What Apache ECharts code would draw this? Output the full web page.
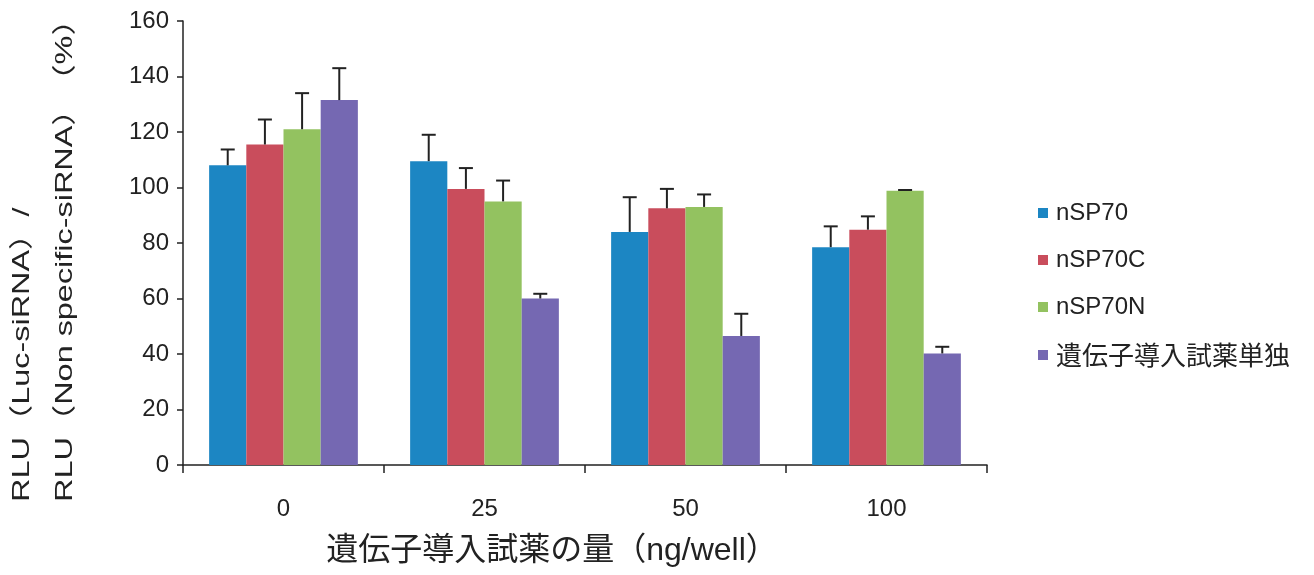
<!DOCTYPE html>
<html>
<head>
<meta charset="utf-8">
<script src="https://cdn.jsdelivr.net/npm/echarts@6/dist/echarts.min.js"></script>
<style>
  html, body { margin: 0; padding: 0; background: #fff; }
  #chart { width: 1314px; height: 575px; }
</style>
</head>
<body>
<div id="chart"></div>
<script>
// Doses of transfection reagent (ng/well)
const categories = ['0', '25', '50', '100'];

// Relative luciferase activity (%) per construct, mean values
const nSP70  = [108, 109.5, 84, 78.5];
const nSP70C = [115.5, 99.5, 92.5, 84.8];
const nSP70N = [121, 95, 93, 98.8];
const reagentOnly = [131.5, 60, 46.5, 40.2];

// Upper error (SD) for each bar
const nSP70Err  = [5.7, 9.5, 12.5, 7.5];
const nSP70CErr = [9, 7.5, 7, 4.8];
const nSP70NErr = [13, 7.5, 4.5, 0.3];
const reagentOnlyErr = [11.5, 1.7, 8, 2.4];

const seriesNames = ['nSP70', 'nSP70C', 'nSP70N', '遺伝子導入試薬単独'];
const seriesValues = [nSP70, nSP70C, nSP70N, reagentOnly];
const seriesErrs = [nSP70Err, nSP70CErr, nSP70NErr, reagentOnlyErr];
const colors = ['#1c86c3', '#c94d5c', '#93c260', '#7568b2'];

const yTicks = { min: 0, max: 160, interval: 20 };

const FONT = "'Liberation Sans', Arial, 'Noto Sans CJK JP', sans-serif";
const CAT_GAP = 0.26;

const chart = echarts.init(document.getElementById('chart'), null, { renderer: 'canvas' });

function errorBarSeries(idx) {
  const n = seriesNames.length;
  return {
    type: 'custom',
    name: seriesNames[idx] + ' error',
    z: 5,
    silent: true,
    data: categories.map((c, k) => [k, seriesValues[idx][k], seriesErrs[idx][k]]),
    renderItem: function (params, api) {
      const cat = api.value(0);
      const v = api.value(1);
      const e = api.value(2);
      const base = api.coord([cat, v]);
      const top = api.coord([cat, v + e]);
      const band = api.size([1, 0])[0];
      const bw = band * (1 - CAT_GAP) / n;
      const cx = base[0] + (idx - (n - 1) / 2) * bw;
      const capHalf = 7;
      const style = { stroke: '#222', lineWidth: 2 };
      return {
        type: 'group',
        children: [
          { type: 'line', shape: { x1: cx, y1: base[1], x2: cx, y2: top[1] }, style: style },
          { type: 'line', shape: { x1: cx - capHalf, y1: top[1], x2: cx + capHalf, y2: top[1] }, style: style }
        ]
      };
    }
  };
}

const barSeries = seriesNames.map((name, i) => ({
  type: 'bar',
  name: name,
  data: seriesValues[i],
  barGap: '0%',
  barCategoryGap: (CAT_GAP * 100) + '%',
  itemStyle: { color: colors[i] },
  z: 2
}));

// Vertical axis title, drawn as two rotated lines reading bottom-to-top
function yTitle(text, x, y, align) {
  return {
    type: 'text', x: x, y: y, rotation: Math.PI / 2, scaleX: 1.35, scaleY: 1,
    style: { text: text, font: '24px ' + FONT, fill: '#222', textAlign: align, textVerticalAlign: 'middle' }
  };
}

const option = {
  animation: false,
  backgroundColor: '#fff',
  textStyle: { fontFamily: FONT },
  grid: { left: 183, top: 21, width: 804, height: 444 },
  legend: {
    data: seriesNames,
    orient: 'vertical',
    left: 1033,
    top: 196,
    icon: 'rect',
    itemWidth: 10,
    itemHeight: 10,
    itemGap: 23,
    formatter: function (name) {
      return /[^\x00-\x7f]/.test(name) ? '{cjk|' + name + '}' : name;
    },
    textStyle: {
      fontSize: 24, color: '#222', fontFamily: FONT, padding: [0, 0, 0, 3],
      rich: { cjk: { fontSize: 26, color: '#222', fontFamily: "'Noto Sans CJK JP', sans-serif" } }
    }
  },
  xAxis: {
    type: 'category',
    data: categories,
    axisLine: { lineStyle: { color: '#222', width: 1.5 } },
    axisTick: { show: true, length: 8, interval: 0, lineStyle: { color: '#222', width: 1.5 } },
    axisLabel: { fontSize: 24, color: '#222', margin: 32, fontFamily: FONT },
    name: '遺伝子導入試薬の量（ng/well）',
    nameLocation: 'middle',
    nameGap: 70,
    nameTextStyle: { fontSize: 32, color: '#222', fontFamily: FONT, padding: [0, 66, 0, 0] },
    splitLine: { show: false }
  },
  yAxis: {
    type: 'value',
    min: yTicks.min,
    max: yTicks.max,
    interval: yTicks.interval,
    axisLine: { show: true, lineStyle: { color: '#222', width: 1.5 } },
    axisTick: { show: true, length: 6, lineStyle: { color: '#222', width: 1.5 } },
    axisLabel: { fontSize: 24, color: '#222', margin: 14, fontFamily: FONT },
    splitLine: { show: false }
  },
  graphic: [
    yTitle('RLU（Luc-siRNA）', 22, 502, 'left'),
    yTitle('/', 22, 212, 'center'),
    yTitle('RLU（Non specific-siRNA）', 65, 502, 'left'),
    yTitle('（%）', 65, 50, 'center')
  ],
  series: barSeries.concat(seriesNames.map((n, i) => errorBarSeries(i)))
};

chart.setOption(option);
</script>
</body>
</html>
